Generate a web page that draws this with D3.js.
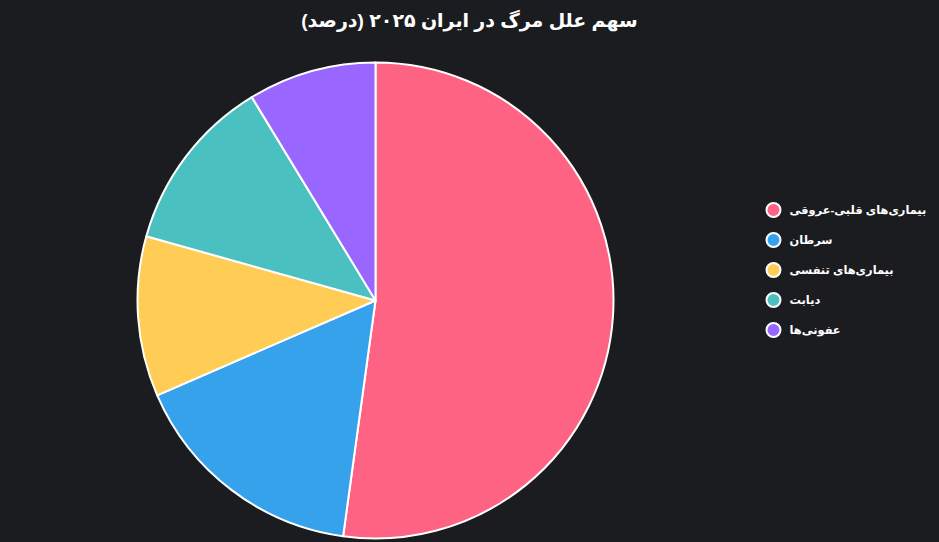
<!DOCTYPE html>
<html>
<head>
<meta charset="utf-8">
<script src="https://cdn.jsdelivr.net/npm/d3@7"></script>
<style>
  html, body { margin: 0; padding: 0; background: #1b1c20; }
  #plot { width: 939px; height: 542px; }
  text { font-family: "Liberation Sans", Arial, "DejaVu Sans", sans-serif; fill: #ffffff; }
</style>
</head>
<body>
<div id="plot"></div>
<script>
// data
const categories = ["بیماری‌های قلبی-عروقی", "سرطان", "بیماری‌های تنفسی", "دیابت", "عفونی‌ها"];
const values = [48, 15, 10, 11, 8];
const colors = ["#ff6384", "#36a2eb", "#ffcd56", "#4bc0c0", "#9966ff"];
const title = "سهم علل مرگ در ایران ۲۰۲۵ (درصد)";

const width = 939, height = 542;
const cx = 375.5, cy = 300.5, radius = 238;

const svg = d3.select("#plot")
    .append("svg")
    .attr("width", width)
    .attr("height", height)
    .attr("viewBox", `0, 0, ${width}, ${height}`);

svg.append("rect")
    .attr("width", width)
    .attr("height", height)
    .attr("fill", "#1b1c20");

// title
svg.append("text")
    .attr("x", width / 2)
    .attr("y", 20)
    .attr("text-anchor", "middle")
    .attr("dominant-baseline", "central")
    .attr("direction", "rtl")
    .style("font-size", "19px")
    .style("font-weight", "bold")
    .text(title);

const colorScale = d3.scaleOrdinal().domain(categories).range(colors);

const pie = d3.pie().sort(null).value(d => d.value);
const arc = d3.arc().innerRadius(0).outerRadius(radius);

const data = categories.map((c, i) => ({ name: c, value: values[i] }));

const piePlot = svg.append("g")
    .attr("transform", `translate(${cx},${cy})`)
    .attr("class", "pie_plot");

piePlot.selectAll("path")
    .data(pie(data))
    .join("path")
    .attr("d", arc)
    .attr("fill", d => colorScale(d.data.name))
    .attr("stroke", "#ffffff")
    .attr("stroke-width", 2)
    .attr("stroke-linejoin", "round");

// legend
const legendY = d3.scalePoint().domain(categories).range([210, 330]);

const legend = svg.append("g").attr("class", "legend");

const items = legend.selectAll("g")
    .data(categories)
    .join("g")
    .attr("transform", d => `translate(773.5,${legendY(d)})`);

items.append("circle")
    .attr("r", 7)
    .attr("fill", d => colorScale(d))
    .attr("stroke", "#ffffff")
    .attr("stroke-width", 2);

const labels = items.append("text")
    .attr("x", 16)
    .attr("y", 0)
    .attr("dominant-baseline", "central")
    .style("font-size", "13px")
    .style("font-weight", "bold")
    .text(d => d);

// shrink the labels so the longest one fits like the reference (~137px)
const maxW = d3.max(labels.nodes(), n => n.getComputedTextLength());
if (maxW > 137) labels.style("font-size", `${13 * 137 / maxW}px`);
</script>
</body>
</html>
